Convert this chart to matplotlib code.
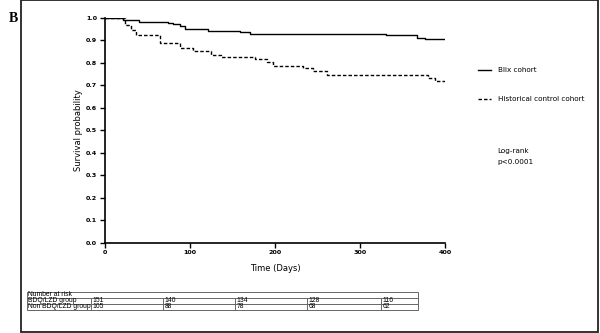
import matplotlib
matplotlib.use("Agg")
import matplotlib.pyplot as plt
from matplotlib.patches import Rectangle

# ---- data ----
blix_t = [0, 21, 40, 74, 80, 88, 94, 121, 159, 171, 331, 367, 376, 400]
blix_s = [1.0, 0.990, 0.982, 0.978, 0.972, 0.965, 0.950, 0.943, 0.937, 0.929, 0.923, 0.912, 0.905, 0.905]
hist_t = [0, 23, 31, 37, 65, 88, 104, 125, 137, 176, 190, 198, 233, 245, 261, 380, 388, 400]
hist_s = [1.0, 0.968, 0.946, 0.924, 0.890, 0.865, 0.855, 0.835, 0.828, 0.818, 0.806, 0.786, 0.776,
          0.765, 0.746, 0.732, 0.721, 0.721]
series_labels = ["Blix cohort", "Historical control cohort"]
x_ticks = [0, 100, 200, 300, 400]
y_ticks = [0.0, 0.1, 0.2, 0.3, 0.4, 0.5, 0.6, 0.7, 0.8, 0.9, 1.0]
risk_header = "Number at risk"
risk_groups = ["BDQ/LZD group", "Non BDQ/LZD group"]
risk_bdq = [151, 140, 134, 128, 116]
risk_non = [105, 88, 78, 68, 62]

W, H = 600, 333
fig = plt.figure(figsize=(6, 3.33), dpi=100)
plt.rcParams['font.family'] = ['Liberation Sans', 'DejaVu Sans']
GP = 'DejaVu Sans'  # wider face for the GraphPad-style letterspaced text

def fx(px):
    return px / W
def fy(py):
    return 1 - py / H

# outer frame
fig.patches.append(Rectangle((fx(21), fy(331.5)), fx(597.5) - fx(21), fy(0) - fy(331.5),
                             transform=fig.transFigure, fill=False, ec='#222222', lw=1.3))
fig.text(fx(13), fy(19), "B", family='Liberation Serif', weight='bold', fontsize=10,
         ha='center', va='center')

ax = fig.add_axes([fx(105), fy(242.7), fx(445) - fx(105), fy(18) - fy(242.7)])
ax.step(blix_t, blix_s, where='post', color='black', lw=1.0, label=series_labels[0])
ax.step(hist_t, hist_s, where='post', color='black', lw=1.0, linestyle=(0, (2.5, 1.5)),
        label=series_labels[1])
ax.set_xlim(0, 400)
ax.set_ylim(0, 1.0)
ax.set_xticks(x_ticks)
ax.set_yticks(y_ticks)
ax.set_xticklabels([str(v) for v in x_ticks])
ax.set_yticklabels([f"{v:.1f}" for v in y_ticks])
for s in ['top', 'right']:
    ax.spines[s].set_visible(False)
for s in ['left', 'bottom']:
    ax.spines[s].set_linewidth(1.2)
ax.tick_params(direction='out', length=3.5, width=1.0, labelsize=4.6, pad=2)
for lab in ax.get_xticklabels() + ax.get_yticklabels():
    lab.set_fontweight('bold')
    lab.set_family(GP)
ax.set_xlabel("Time (Days)", fontsize=6.0, family=GP, labelpad=6)
ax.set_ylabel("Survival probability", fontsize=6.0, family=GP, labelpad=2.5)

leg = ax.legend(loc='upper left', bbox_to_anchor=(fx(478), fy(67)), bbox_transform=fig.transFigure,
                frameon=False, prop={'family': GP, 'size': 5.2}, handlelength=1.8,
                handletextpad=0.9, labelspacing=3.2, borderpad=0, borderaxespad=0)

fig.text(fx(497), fy(151), "Log-rank", fontsize=5.2, family=GP, va='center', ha='left')
fig.text(fx(497), fy(162), "p<0.0001", fontsize=5.2, family=GP, va='center', ha='left')

# number-at-risk table
col_edges = [26.7, 91.3, 163.3, 235.3, 307.3, 381.0, 417.7]
row_edges = [291.7, 297.9, 304.0, 310.0]
tax = fig.add_axes([0, 0, 1, 1])
tax.set_xlim(0, W)
tax.set_ylim(H, 0)
tax.axis('off')
lc = '#666666'
lw = 0.7
tax.add_patch(Rectangle((col_edges[0], row_edges[0]), col_edges[-1] - col_edges[0],
                        row_edges[-1] - row_edges[0], fill=False, ec=lc, lw=lw))
for r in row_edges[1:-1]:
    tax.plot([col_edges[0], col_edges[-1]], [r, r], color=lc, lw=lw)
for c in col_edges[1:-1]:
    tax.plot([c, c], [row_edges[1], row_edges[-1]], color=lc, lw=lw)
fs = 4.9
tax.text(col_edges[0] + 1, (row_edges[0] + row_edges[1]) / 2, risk_header, fontsize=fs,
         va='center', ha='left')
for i, (g, vals) in enumerate(zip(risk_groups, [risk_bdq, risk_non])):
    yc = (row_edges[i + 1] + row_edges[i + 2]) / 2
    tax.text(col_edges[0] + 1, yc, g, fontsize=fs, va='center', ha='left')
    for j, v in enumerate(vals):
        tax.text(col_edges[j + 1] + 1.5, yc, str(v), fontsize=fs, va='center', ha='left')

fig.savefig("out.png", dpi=100)
